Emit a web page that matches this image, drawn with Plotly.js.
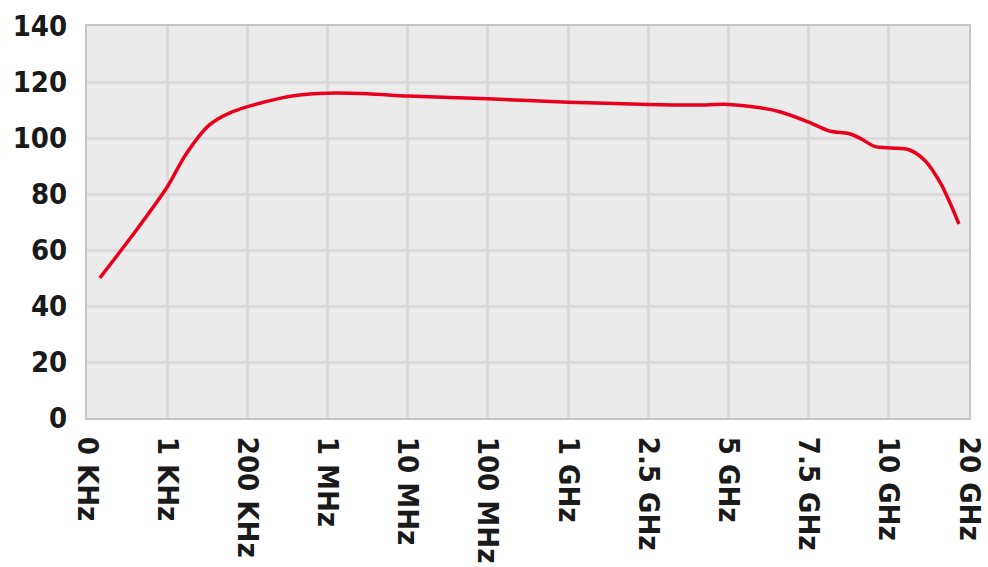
<!DOCTYPE html>
<html>
<head>
<meta charset="utf-8">
<script src="https://cdn.plot.ly/plotly-3.0.1.min.js"></script>
<style>html,body{margin:0;padding:0;background:#fff;}#chart{width:988px;height:567px;}</style>
</head>
<body>
<div id="chart"></div>
<script>
// Frequency band labels (categorical positions 0..11)
const tickLabels = ["0 KHz","1 KHz","200 KHz","1 MHz","10 MHz","100 MHz","1 GHz","2.5 GHz","5 GHz","7.5 GHz","10 GHz","20 GHz"];
// Curve samples: position along the band axis and the measured value
const bandPos = [0.16, 0.6, 1.0, 1.23, 1.52, 1.81, 2.23, 2.6, 3.0, 3.5, 4, 5, 6, 7, 7.6, 8, 8.35, 8.65, 9.0, 9.27, 9.5, 9.65, 9.82, 10.05, 10.25, 10.45, 10.65, 10.875];
const values  = [50, 66.5, 82.5, 94, 104.5, 109.3, 113, 115.2, 116, 115.8, 115, 114, 112.8, 112, 111.8, 112, 111, 109.3, 105.7, 102.4, 101.6, 99.8, 97, 96.4, 95.8, 92, 83.6, 69.3];
const yTicks = [0,20,40,60,80,100,120,140];

const tickFont = {family: "DejaVu Sans Condensed, DejaVu Sans, sans-serif", size: 29, color: "#1a1a1a", weight: 600};

const trace = {
  x: bandPos, y: values, type: "scatter", mode: "lines",
  line: {color: "#e8001c", width: 3.5, shape: "spline", smoothing: 0.8},
  hoverinfo: "skip"
};

const layout = {
  width: 988, height: 567,
  margin: {l: 87, r: 19, t: 26, b: 149},
  paper_bgcolor: "#ffffff",
  plot_bgcolor: "#ebebeb",
  showlegend: false,
  xaxis: {
    range: [0, 11], tickmode: "array",
    tickvals: tickLabels.map((_, i) => i), ticktext: tickLabels,
    tickangle: 90, tickfont: tickFont, ticklabelstandoff: 11,
    showgrid: true, gridcolor: "#dadada", gridwidth: 3,
    showline: true, linecolor: "#c4c4c4", linewidth: 2, mirror: true,
    zeroline: false, ticks: "", ticklen: 0, automargin: false
  },
  yaxis: {
    range: [0, 140], tickmode: "array", tickvals: yTicks,
    tickfont: tickFont, ticklabelstandoff: 12,
    showgrid: true, gridcolor: "#dadada", gridwidth: 3,
    showline: true, linecolor: "#c4c4c4", linewidth: 2, mirror: true,
    zeroline: false, ticks: "", ticklen: 0, automargin: false
  }
};

Plotly.newPlot("chart", [trace], layout, {displayModeBar: false, staticPlot: true});
</script>
</body>
</html>
